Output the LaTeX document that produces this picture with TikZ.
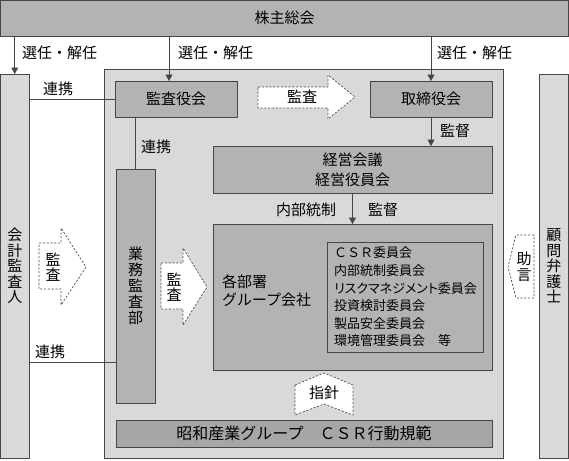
\documentclass[tikz,border=0pt]{standalone}
\usepackage{fontspec}
\setmainfont{Noto Sans CJK JP}
\newfontfamily\paltfont[RawFeature=+palt]{Noto Sans CJK JP}
\usetikzlibrary{arrows.meta}
\definecolor{linec}{RGB}{70,70,70}
\definecolor{bigfill}{RGB}{217,217,217}
\definecolor{boxfill}{RGB}{179,179,179}
\definecolor{csrfill}{RGB}{166,166,166}
\definecolor{colfill}{RGB}{217,217,217}
\definecolor{dashc}{RGB}{80,80,80}
\begin{document}
\begin{tikzpicture}[x=1pt,y=-1pt,
  lbl/.style={font=\fontsize{15}{18}\selectfont, inner sep=0pt, outer sep=0pt},
  box/.style={draw=linec, line width=0.8pt, fill=boxfill, inner sep=0pt, outer sep=0pt, font=\fontsize{15}{18}\selectfont},
  vtext/.style={align=center, font=\fontsize{15}{15.5}\selectfont},
  conn/.style={draw=linec, line width=0.8pt},
  arr/.style={conn, -{Triangle[length=6.5pt,width=7pt]}},
  dasharr/.style={draw=dashc, fill=white, line width=0.7pt, dash pattern=on 2.2pt off 1.6pt},
]
\useasboundingbox (0,0) rectangle (569,460);
% big frame
\node[box, fill=bigfill, minimum width=399pt, minimum height=389pt] (big) at (303.5,263.5) {};
% top bar
\node[box, minimum width=568pt, minimum height=35.5pt] (top) at (284.5,18.25) {株主総会};
% side columns
\node[box, fill=colfill, minimum width=28.5pt, minimum height=384pt, vtext] (kaikei) at (14.75,266) {会\\計\\監\\査\\人};
\node[box, fill=colfill, minimum width=29.5pt, minimum height=384pt, vtext] (komon) at (553.75,266) {顧\\問\\弁\\護\\士};
% boxes
\node[box, minimum width=122pt, minimum height=36pt] (kansa) at (176,99) {監査役会};
\node[box, minimum width=122pt, minimum height=36pt] (tori) at (431,99) {取締役会};
\node[box, minimum width=279pt, minimum height=47pt, align=center, font=\fontsize{15}{20}\selectfont] (keiei) at (352.5,169.5) {経営会議\\経営役員会};
\node[box, minimum width=39pt, minimum height=234pt, align=center, font=\fontsize{15}{16}\selectfont] (gyomu) at (135.5,286) {業\\務\\監\\査\\部};
\node[box, minimum width=279pt, minimum height=146pt] (kakubu) at (352.5,297) {};
\node[box, minimum width=156pt, minimum height=110pt] (inner) at (405,297) {};
\node[box, fill=csrfill, minimum width=376pt, minimum height=27pt, font=\fontsize{16}{18}\selectfont] (csr) at (304,433.5) {昭和産業グループ　ＣＳＲ行動規範};
% texts inside boxes
\node[lbl, align=left, anchor=west] (kakutxt) at (222,291) {各部署\\グループ会社};
\node[align=left, anchor=west, inner sep=0pt, font=\fontsize{13}{17.6}\selectfont] (iinkai) at (334,297) {ＣＳＲ委員会\\内部統制委員会\\{\paltfont リスクマネジメント}委員会\\投資検討委員会\\製品安全委員会\\環境管理委員会　等};
% connectors
\coordinate (p2) at (169,81);
\coordinate (p3) at (0,362);
\draw[arr] (top.south -| kaikei.north) -- (kaikei.north);
\draw[arr] (top.south -| p2) -- (kansa.north -| p2);
\draw[arr] (top.south -| tori.north) -- (tori.north);
\draw[arr] (tori.south) -- (tori.south |- keiei.north);
\draw[arr] (keiei.south) -- (keiei.south |- kakubu.north);
\draw[conn] (kaikei.east |- kansa.west) -- (kansa.west);
\draw[conn] (kansa.south -| gyomu.north) -- (gyomu.north);
\draw[conn] (kaikei.east |- p3) -- (gyomu.west |- p3);
% connector labels
\node[lbl, anchor=west] (l1) at (22,53) {選任・解任};
\node[lbl, anchor=west] (l2) at (178,53) {選任・解任};
\node[lbl, anchor=west] (l3) at (437,53) {選任・解任};
\node[lbl, anchor=west] (r1) at (43,89) {連携};
\node[lbl, anchor=west] (r2) at (141,147) {連携};
\node[lbl, anchor=west] (r3) at (35,352) {連携};
\node[lbl, anchor=west] (k1) at (440,131) {監督};
\node[lbl, anchor=east] (n1) at (336,210) {内部統制};
\node[lbl, anchor=west] (k2) at (368,210) {監督};
% dashed block arrows
\draw[dasharr] (258,87) -- (328,87) -- (328,75) -- (355,97) -- (328,119) -- (328,108) -- (258,108) -- cycle;
\node[lbl] (a1) at (302,97) {監査};
\draw[dasharr] (39,243) -- (61,243) -- (61,228) -- (86,267) -- (61,305) -- (61,289) -- (39,289) -- cycle;
\node[vtext] (a2) at (53,267) {監\\査};
\draw[dasharr] (161,263) -- (183,263) -- (183,248) -- (207,287) -- (183,325) -- (183,309) -- (161,309) -- cycle;
\node[vtext] (a3) at (174,287) {監\\査};
\draw[dasharr] (534,235) -- (516,235) -- (508,267) -- (516,298) -- (534,298) -- cycle;
\node[vtext] (a4) at (524,267) {助\\言};
\draw[dasharr] (295,385) -- (324,373) -- (353,385) -- (353,415) -- (324,404) -- (295,415) -- cycle;
\node[lbl] (a5) at (324,393) {指針};
\end{tikzpicture}
\end{document}
